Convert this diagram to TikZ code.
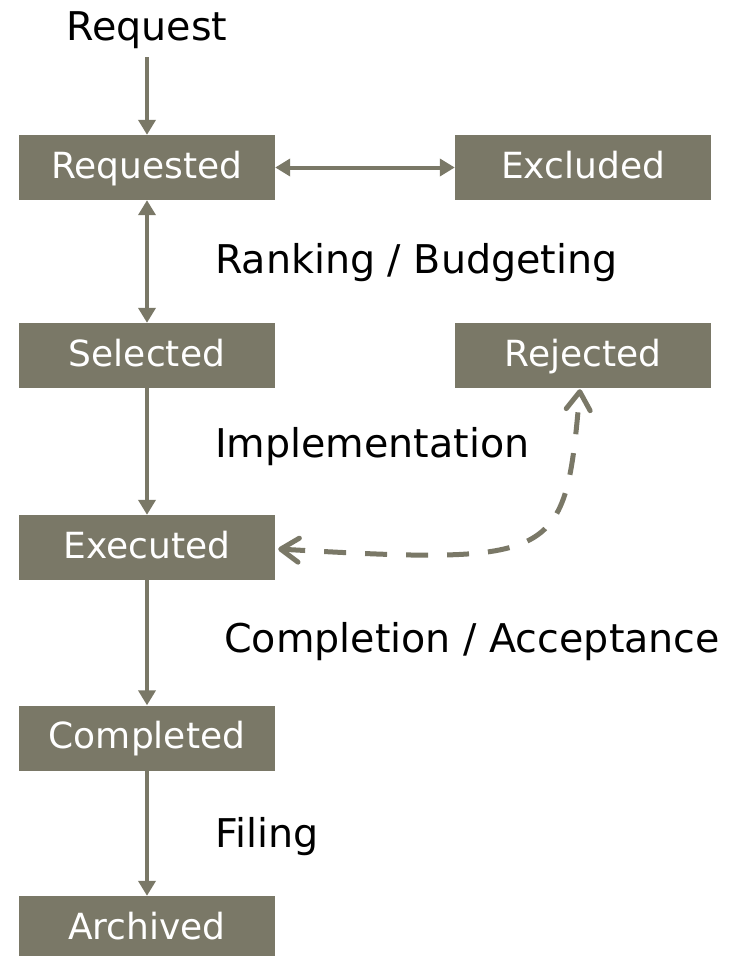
\documentclass[tikz,border=0pt]{standalone}
\usepackage{fontspec}
\setmainfont{DejaVu Sans}
\usetikzlibrary{arrows.meta}
\definecolor{boxc}{RGB}{122,120,103}
\begin{document}
\begin{tikzpicture}[x=1pt,y=-1pt,
  statebox/.style={fill=boxc, text=white, minimum width=256pt, minimum height=65pt,
    inner sep=0pt, text height=26pt, text depth=5pt, font=\fontsize{36}{40}\selectfont},
  lbl/.style={inner sep=0pt, font=\fontsize{39.6}{44}\selectfont, text=black},
  arr/.style={draw=boxc, line width=4pt, -{Triangle[width=17pt,length=15pt]}},
  arrtwo/.style={draw=boxc, line width=4pt, {Triangle[width=17pt,length=15pt]}-{Triangle[width=17pt,length=15pt]}},
  dasharr/.style={draw=boxc, line width=5pt, dash pattern=on 22pt off 19pt, line cap=butt,
    {Straight Barb[length=18pt,width=24pt,line cap=round,line join=round]}-{Straight Barb[length=18pt,width=24pt,line cap=round,line join=round]}}
]
\useasboundingbox (0,0) rectangle (738,956);

\node[statebox] (requested) at (147,167.5) {Requested};
\node[statebox] (excluded)  at (583,167.5) {Excluded};
\node[statebox] (selected)  at (147,355.5) {Selected};
\node[statebox] (rejected)  at (583,355.5) {Rejected};
\node[statebox] (executed)  at (147,547.5) {Executed};
\node[statebox] (completed) at (147,738)   {Completed};
\node[statebox] (archived)  at (147,928.5) {Archived};

\node[lbl, anchor=base] (req) at (147,40) {Request};
\node[lbl, anchor=base west] (lrank) at (215,273) {Ranking / Budgeting};
\node[lbl, anchor=base west] (limpl) at (215,457) {Implementation};
\node[lbl, anchor=base west] (lcomp) at (224,652) {Completion / Acceptance};
\node[lbl, anchor=base west] (lfile) at (215,847) {Filing};

\draw[arr, shorten <=9pt] (req.south) -- (requested.north);
\draw[arrtwo] (requested.east) -- (excluded.west);
\draw[arrtwo] (requested.south) -- (selected.north);
\draw[arr] (selected.south) -- (executed.north);
\draw[arr] (executed.south) -- (completed.north);
\draw[arr] (completed.south) -- (archived.north);

\coordinate (dA) at ([xshift=3pt,yshift=-1.5pt]executed.east);
\coordinate (dB) at ([xshift=-3pt,yshift=-1pt]rejected.south);
\draw[dasharr] (dA) .. controls (560,565) and (565,560) .. (dB);
\end{tikzpicture}
\end{document}
